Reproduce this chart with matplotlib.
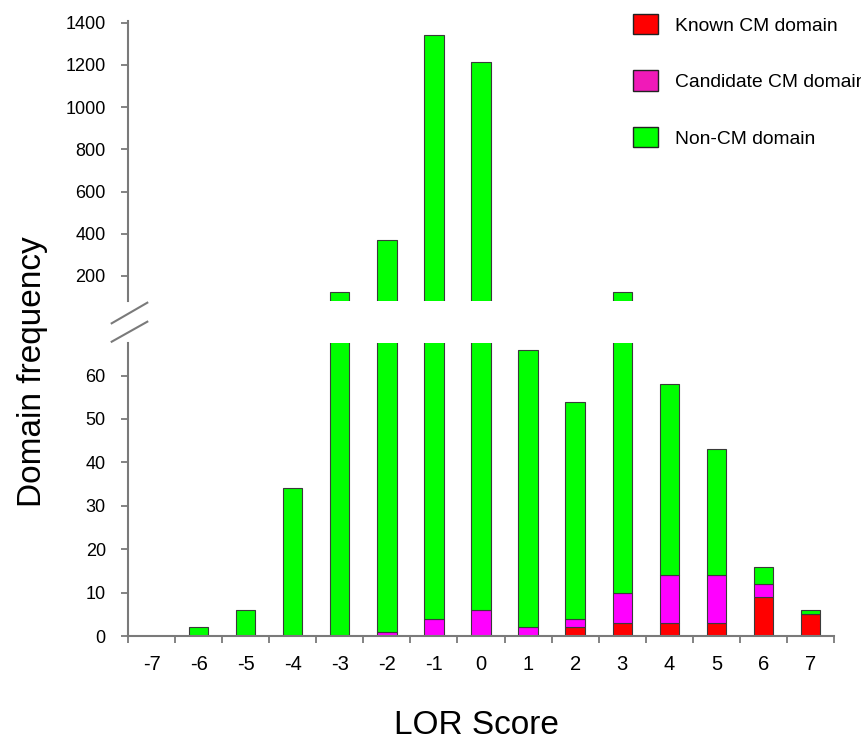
import numpy as np
import matplotlib
matplotlib.use("Agg")
from matplotlib import pyplot as plt
from matplotlib.patches import Patch
from matplotlib.lines import Line2D

plt.rcParams['font.family'] = ['Liberation Sans', 'DejaVu Sans']

# LOR score bins and domain counts per class
lor = [-7, -6, -5, -4, -3, -2, -1, 0, 1, 2, 3, 4, 5, 6, 7]
known_cm = [0, 0, 0, 0, 0, 0, 0, 0, 0, 2, 3, 3, 3, 9, 5]
candidate_cm = [0, 0, 0, 0, 0, 1, 4, 6, 2, 2, 7, 11, 11, 3, 0]
non_cm = [0, 2, 6, 34, 125, 369, 1337, 1209, 64, 50, 115, 44, 29, 4, 1]

series = [("Known CM domain", known_cm, "#ff0000"),
          ("Candidate CM domain", candidate_cm, "#ff00ff"),
          ("Non-CM domain", non_cm, "#00ff00")]

spine_col = "#7a7a7a"
edge_col = "#3a3a3a"

fig = plt.figure(figsize=(8.62, 7.41), dpi=100)
ax_top = fig.add_axes([0.1485, 0.5942, 0.819, 0.3779])
ax_bot = fig.add_axes([0.1485, 0.1417, 0.819, 0.3954])

x = np.arange(len(lor))
for ax in (ax_top, ax_bot):
    bottom = np.zeros(len(lor))
    for name, vals, col in series:
        ax.bar(x, vals, width=0.41, bottom=bottom, color=col,
               edgecolor=edge_col, linewidth=0.8)
        bottom += np.array(vals)
    ax.set_xlim(-0.5, len(lor) - 0.5)
    for s in ("top", "right"):
        ax.spines[s].set_visible(False)
    ax.spines["left"].set_color(spine_col)
    ax.spines["left"].set_linewidth(1.5)
    ax.tick_params(axis="y", direction="out", length=5, width=1.3,
                   color=spine_col, labelsize=13, pad=11)

# upper part of the broken axis
ax_top.set_ylim(82.7, 1409.5)
ax_top.set_yticks(np.arange(200, 1401, 200))
ax_top.spines["bottom"].set_visible(False)
ax_top.set_xticks([])

# lower part
ax_bot.set_ylim(0, 67.5)
ax_bot.set_yticks(np.arange(0, 61, 10))
ax_bot.spines["bottom"].set_color(spine_col)
ax_bot.spines["bottom"].set_linewidth(1.5)
ax_bot.set_xticks(np.arange(len(lor) + 1) - 0.5)
ax_bot.set_xticklabels([])
ax_bot.set_xticks(x, minor=True)
ax_bot.set_xticklabels([str(v) for v in lor], minor=True)
ax_bot.tick_params(axis="x", which="major", direction="out", length=5,
                   width=1.3, color=spine_col)
ax_bot.tick_params(axis="x", which="minor", length=0, labelsize=14.5, pad=14)

# break marks
for y0, y1 in [(1 - 323.3 / 741, 1 - 302.7 / 741), (1 - 341.7 / 741, 1 - 321.7 / 741)]:
    fig.add_artist(Line2D([111.7 / 862, 147.3 / 862], [y0, y1],
                          transform=fig.transFigure, color=spine_col, lw=1.5))

fig.text(0.038, 0.498, "Domain frequency", rotation=90, fontsize=24,
         ha="center", va="center")
fig.text(0.553, 0.021, "LOR Score", fontsize=24, ha="center", va="center")

handles = [Patch(facecolor=c if n != "Candidate CM domain" else "#f01ab8",
                 edgecolor="#222222", linewidth=1.0, label=n)
           for n, v, c in series]
fig.legend(handles=handles, loc="upper left",
           bbox_to_anchor=(632.7 / 862, 1 - 14 / 741), frameon=False,
           fontsize=13.9, labelspacing=1.85, handlelength=1.3,
           handleheight=1.25, handletextpad=0.9, borderpad=0,
           borderaxespad=0)

fig.savefig("out.png", dpi=100)
